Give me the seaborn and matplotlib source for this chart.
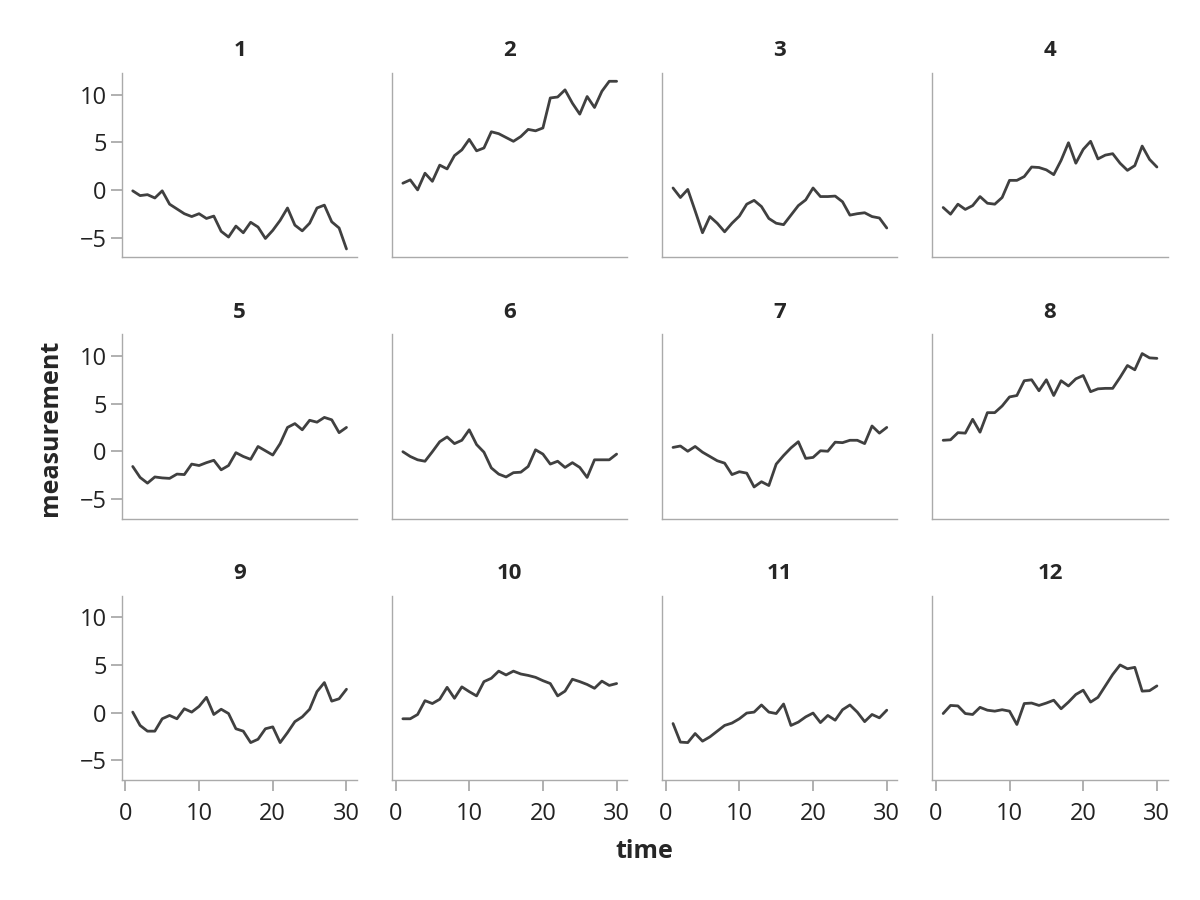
import numpy as np
import pandas as pd
import matplotlib
matplotlib.use("Agg")
import matplotlib.pyplot as plt
import seaborn as sns

# values, one list per panel (time = 1..30)
time = list(range(1, 31))
s1 = [-0.1, -0.6, -0.5, -0.85, -0.1, -1.5, -2.0, -2.5, -2.8, -2.5, -3.0, -2.75, -4.35, -4.95, -3.8,
      -4.5, -3.4, -3.9, -5.1, -4.25, -3.2, -1.9, -3.7, -4.3, -3.5, -1.9, -1.6, -3.35, -4.0, -6.2]
s2 = [0.7, 1.05, 0.0, 1.75, 0.9, 2.6, 2.2, 3.6, 4.2, 5.3, 4.1, 4.4, 6.1, 5.9, 5.5,
      5.1, 5.6, 6.35, 6.2, 6.5, 9.65, 9.75, 10.5, 9.1, 7.95, 9.8, 8.65, 10.35, 11.4, 11.4]
s3 = [0.2, -0.8, 0.05, -2.2, -4.5, -2.8, -3.5, -4.4, -3.5, -2.75, -1.5, -1.1, -1.75, -3.0, -3.5,
      -3.65, -2.65, -1.65, -1.05, 0.2, -0.7, -0.7, -0.65, -1.25, -2.65, -2.5, -2.4, -2.8, -2.95, -4.0]
s4 = [-1.85, -2.55, -1.5, -2.05, -1.65, -0.7, -1.4, -1.5, -0.8, 1.0, 1.0, 1.4, 2.4, 2.35, 2.1,
      1.6, 3.1, 4.95, 2.8, 4.25, 5.1, 3.25, 3.65, 3.8, 2.8, 2.05, 2.55, 4.6, 3.2, 2.4]
s5 = [-1.6, -2.75, -3.35, -2.7, -2.8, -2.85, -2.4, -2.45, -1.35, -1.5, -1.2, -0.95, -1.95, -1.5, -0.15,
      -0.55, -0.85, 0.5, 0.05, -0.4, 0.8, 2.5, 2.9, 2.25, 3.25, 3.05, 3.55, 3.3, 1.95, 2.5]
s6 = [-0.05, -0.55, -0.9, -1.05, -0.05, 1.0, 1.5, 0.8, 1.15, 2.25, 0.7, -0.1, -1.75, -2.4, -2.7,
      -2.25, -2.2, -1.6, 0.15, -0.3, -1.35, -1.05, -1.7, -1.2, -1.7, -2.75, -0.9, -0.9, -0.9, -0.3]
s7 = [0.4, 0.55, 0.0, 0.5, -0.1, -0.55, -1.0, -1.25, -2.45, -2.15, -2.3, -3.75, -3.2, -3.6, -1.35,
      -0.45, 0.35, 1.0, -0.75, -0.65, 0.05, 0.0, 0.95, 0.9, 1.15, 1.15, 0.8, 2.65, 1.9, 2.5]
s8 = [1.15, 1.2, 1.95, 1.9, 3.35, 2.0, 4.05, 4.05, 4.75, 5.7, 5.85, 7.4, 7.5, 6.35, 7.5,
      5.85, 7.4, 6.85, 7.6, 7.95, 6.25, 6.55, 6.6, 6.6, 7.75, 9.0, 8.55, 10.25, 9.8, 9.75]
s9 = [0.05, -1.35, -1.95, -1.95, -0.65, -0.3, -0.65, 0.4, 0.05, 0.65, 1.6, -0.2, 0.35, -0.1, -1.7,
      -1.95, -3.15, -2.8, -1.7, -1.5, -3.15, -2.1, -0.95, -0.45, 0.35, 2.2, 3.15, 1.2, 1.45, 2.45]
s10 = [-0.65, -0.65, -0.2, 1.25, 0.95, 1.4, 2.65, 1.5, 2.7, 2.2, 1.75, 3.25, 3.6, 4.35, 3.95,
       4.35, 4.05, 3.9, 3.7, 3.35, 3.05, 1.75, 2.25, 3.5, 3.25, 2.95, 2.55, 3.3, 2.85, 3.05]
s11 = [-1.15, -3.1, -3.15, -2.2, -3.0, -2.55, -1.95, -1.35, -1.1, -0.65, -0.05, 0.05, 0.8, 0.05, -0.1,
       0.9, -1.35, -1.0, -0.45, -0.05, -1.05, -0.3, -0.8, 0.3, 0.8, 0.05, -0.95, -0.2, -0.55, 0.25]
s12 = [-0.1, 0.75, 0.7, -0.1, -0.2, 0.55, 0.25, 0.15, 0.3, 0.15, -1.25, 0.95, 1.0, 0.75, 1.0,
       1.3, 0.4, 1.1, 1.9, 2.35, 1.1, 1.6, 2.8, 4.0, 5.0, 4.6, 4.75, 2.25, 2.3, 2.8]

series = [s1, s2, s3, s4, s5, s6, s7, s8, s9, s10, s11, s12]
df = pd.DataFrame({
    "id": np.repeat(np.arange(1, 13), len(time)),
    "time": time * 12,
    "measurement": np.concatenate(series),
})

sns.set_theme(style="ticks")
plt.rcParams["font.family"] = ["Open Sans", "DejaVu Sans"]
plt.rcParams.update({
    "axes.edgecolor": "#aaaaaa",
    "axes.linewidth": 1.0,
    "xtick.color": "#aaaaaa",
    "ytick.color": "#aaaaaa",
    "xtick.labelcolor": "#222222",
    "ytick.labelcolor": "#222222",
    "xtick.major.size": 8,
    "ytick.major.size": 8,
    "xtick.major.width": 1.3,
    "ytick.major.width": 1.3,
    "xtick.major.pad": 8,
    "ytick.major.pad": 3,
    "xtick.labelsize": 17,
    "ytick.labelsize": 17,
})

g = sns.relplot(data=df, x="time", y="measurement", col="id", col_wrap=4,
                kind="line", color="#404040", linewidth=2,
                height=2.5, aspect=1.2)
g.figure.set_size_inches(12, 9)
g.set_titles("{col_name}", fontweight="bold", size=16, pad=12)
g.set_axis_labels("", "")
g.set(xticks=[0, 10, 20, 30], yticks=[-5, 0, 5, 10])

# interior panels: no tick marks on shared axes
for i, ax in enumerate(g.axes.flat):
    if i % 4 != 0:
        ax.tick_params(axis="y", length=0)
    if i < 8:
        ax.tick_params(axis="x", length=0)

g.figure.subplots_adjust(left=0.1017, right=0.973, top=0.919, bottom=0.1333,
                         wspace=0.149, hspace=0.417)

g.figure.text(0.537, 0.054, "time", ha="center", va="center",
              fontsize=18, fontweight="bold")
g.figure.text(0.042, 0.525, "measurement", ha="center", va="center",
              rotation=90, fontsize=18, fontweight="bold")

g.figure.savefig("out.png", dpi=100)
